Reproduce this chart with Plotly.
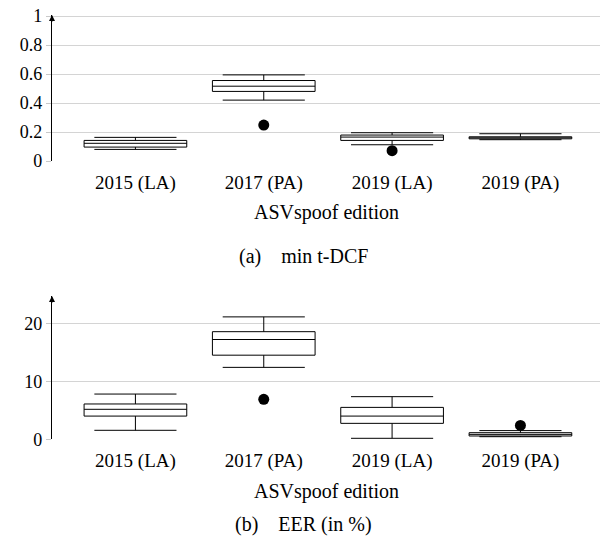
import plotly.graph_objects as go

categories = ["2015 (LA)", "2017 (PA)", "2019 (LA)", "2019 (PA)"]

# min t-DCF
tdcf_low = [0.080, 0.420, 0.112, 0.147]
tdcf_q1 = [0.096, 0.480, 0.142, 0.153]
tdcf_med = [0.122, 0.516, 0.165, 0.160]
tdcf_q3 = [0.142, 0.555, 0.179, 0.167]
tdcf_high = [0.163, 0.594, 0.195, 0.188]
tdcf_out_x = ["2017 (PA)", "2019 (LA)"]
tdcf_out_y = [0.248, 0.071]

# EER (%)
eer_low = [1.55, 12.4, 0.17, 0.45]
eer_q1 = [4.0, 14.5, 2.75, 0.57]
eer_med = [5.17, 17.2, 4.0, 0.85]
eer_q3 = [6.09, 18.55, 5.5, 1.14]
eer_high = [7.8, 21.1, 7.35, 1.5]
eer_out_x = ["2017 (PA)", "2019 (PA)"]
eer_out_y = [6.9, 2.4]

FONT = "Liberation Serif"
FS = 19
W, H = 602, 546

def px(v):
    return v / W

def py(v):
    return 1 - v / H

fig = go.Figure()

def add_box(xax, yax, low, q1, med, q3, high, ox, oy):
    fig.add_trace(go.Box(
        x=categories, lowerfence=low, q1=q1, median=med, q3=q3, upperfence=high,
        xaxis=xax, yaxis=yax, width=0.8, whiskerwidth=0.8,
        fillcolor="white", line=dict(color="black", width=1),
        boxpoints=False, showlegend=False, hoverinfo="skip"))
    fig.add_trace(go.Scatter(
        x=ox, y=oy, xaxis=xax, yaxis=yax, mode="markers",
        marker=dict(color="black", size=11), showlegend=False))

add_box("x", "y", tdcf_low, tdcf_q1, tdcf_med, tdcf_q3, tdcf_high, tdcf_out_x, tdcf_out_y)
add_box("x2", "y2", eer_low, eer_q1, eer_med, eer_q3, eer_high, eer_out_x, eer_out_y)

xdom = [px(52), px(600)]
top_dom = [py(161), py(15)]
bot_dom = [py(439.3), py(296)]

xcommon = dict(type="category", categoryorder="array", categoryarray=categories,
               range=[-0.65, 3.62], showgrid=False, showline=False, zeroline=False,
               ticks="", ticklabelstandoff=8, automargin=False,
               tickfont=dict(family=FONT, size=FS, color="black"),
               domain=xdom, fixedrange=True)
ycommon = dict(showgrid=True, gridcolor="#d4d4d4", gridwidth=1, zeroline=False,
               showline=True, linecolor="black", linewidth=1.2, automargin=False,
               ticks="outside", ticklen=5, tickcolor="#c8c8c8",
               ticklabeloverflow="allow",
               tickfont=dict(family=FONT, size=18, color="black"))

fig.update_layout(
    width=W, height=H, margin=dict(l=0, r=0, t=0, b=0, autoexpand=False),
    paper_bgcolor="white", plot_bgcolor="white",
    xaxis=dict(**xcommon, anchor="y"),
    yaxis=dict(**ycommon, domain=top_dom, range=[0, 1.007],
               tickvals=[0, 0.2, 0.4, 0.6, 0.8, 1],
               ticktext=["0", "0.2", "0.4", "0.6", "0.8", "1"], anchor="x"),
    xaxis2=dict(**xcommon, anchor="y2"),
    yaxis2=dict(**ycommon, domain=bot_dom, range=[0, 24.7],
                tickvals=[0, 10, 20], anchor="x2"),
)

ann = []
for yref in ["y domain", "y2 domain"]:
    ann.append(dict(x=xdom[0], xref="paper", y=1, yref=yref, ax=0, ay=8,
                    showarrow=True, arrowhead=2, arrowsize=1, arrowwidth=1.2,
                    arrowcolor="black", text=""))
sp = "\u00a0" * 4
mid = (xdom[0] + xdom[1]) / 2
texts = [("ASVspoof edition", 213, mid),
         ("(a)" + sp + "min t-DCF", 256, px(303)),
         ("ASVspoof edition", 491, mid),
         ("(b)" + sp + "EER (in %)", 524, px(303))]
for t, yy, xx in texts:
    ann.append(dict(x=xx, xref="paper", y=py(yy), yref="paper",
                    text=t, showarrow=False, yanchor="middle", xanchor="center",
                    font=dict(family=FONT, size=20, color="black")))
fig.update_layout(annotations=ann)

fig.write_html("out.html", config={"displayModeBar": False},
               post_script="document.body.style.margin='0';document.body.style.overflow='hidden';")
